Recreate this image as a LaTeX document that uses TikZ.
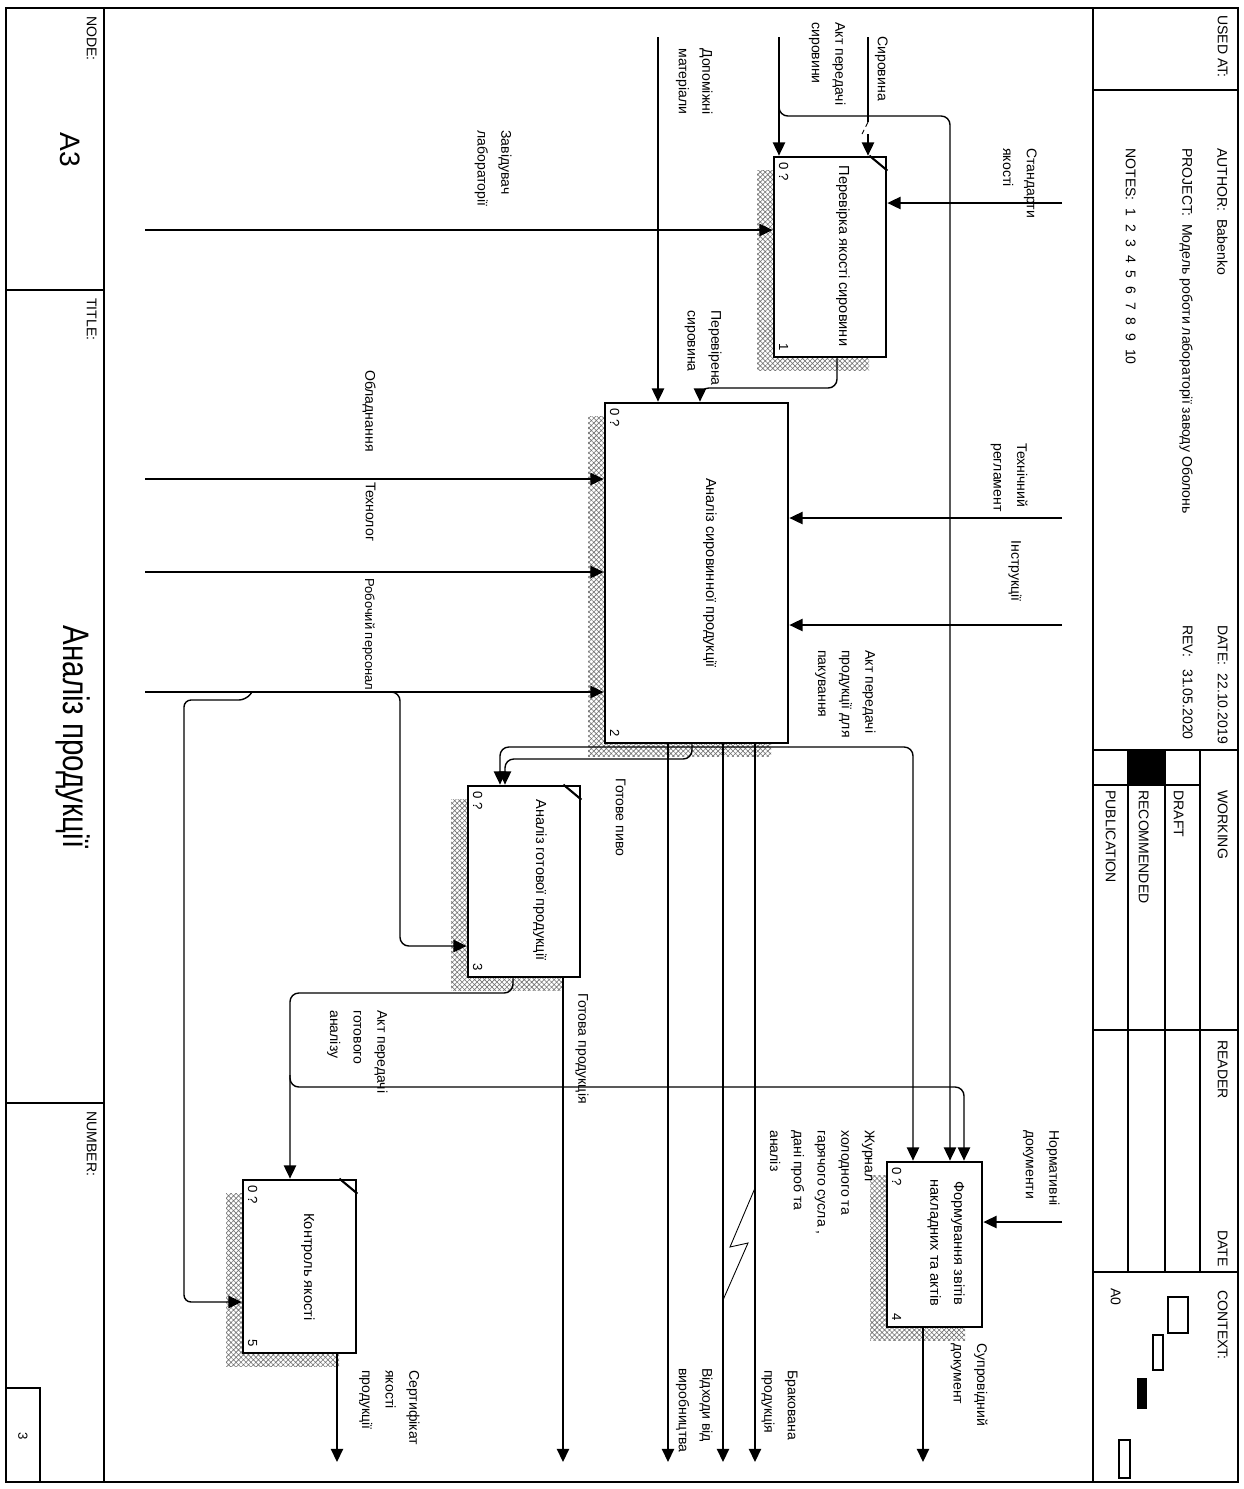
\documentclass[tikz,border=0pt]{standalone}
\usepackage{fontspec}
\setmainfont{Liberation Sans}
\usetikzlibrary{arrows.meta, patterns.meta, shadows}

\begin{document}
\begin{tikzpicture}[x=0.02cm, y=-0.02cm,
  fbox/.style={draw, line width=1.6pt, fill=white, inner sep=0pt,
               general shadow={shadow xshift=-9.6pt, shadow yshift=-7.9pt,
                 pattern={Hatch[angle=45, distance=2pt, line width=0.35pt]},
                 pattern color=black!55}},
  arr/.style={-{Triangle[length=7.5pt, width=7pt]}, line width=0.8pt},
  ln/.style={line width=0.8pt},
  lbl/.style={rotate=-90, anchor=north west, align=left, inner sep=0pt,
              font=\fontsize{8}{13.5}\selectfont},
  btxt/.style={rotate=-90, align=center, inner sep=0pt,
               font=\fontsize{8.3}{13.5}\selectfont},
  hdr/.style={rotate=-90, anchor=north west, inner sep=0pt,
              font=\fontsize{8}{10}\selectfont},
  tag/.style={rotate=-90, inner sep=0pt, font=\fontsize{7.5}{9}\selectfont}
]
\useasboundingbox (0,0) rectangle (1244,1489);

% Page frame
\draw[line width=1.2pt] (6,8) rectangle (1238,1482);
\draw[line width=1.2pt] (104,8) -- (104,1482);
\draw[line width=1.2pt] (1093,8) -- (1093,1482);

% Title block (left)
\draw[line width=0.8pt] (6,290) -- (104,290);
\draw[line width=0.8pt] (6,1103) -- (104,1103);
\draw[line width=0.8pt] (6,1388) rectangle (40,1482);
\node[hdr] (nodeL) at (97,16) {NODE:};
\node[rotate=-90, font=\fontsize{16}{18}\selectfont] (nodeV) at (70,150) {A3};
\node[hdr] (titleL) at (97,298) {TITLE:};
\node[rotate=-90] (titleV) at (73,737)
  {\scalebox{0.8}[1]{\fontsize{21}{24}\selectfont Аналіз продукції}};
\node[hdr] (numL) at (97,1111) {NUMBER:};
\node[tag] (numV) at (23,1436) {3};

% Header block (right)
\draw[line width=0.8pt] (1093,90) -- (1238,90);
\draw[line width=0.8pt] (1093,750) -- (1238,750);
\foreach \cx in {1128,1165,1200}
  \draw[line width=0.8pt] (\cx,750) -- (\cx,1272);
\draw[line width=0.8pt] (1093,785) -- (1200,785);
\fill (1128,750) rectangle (1165,785);
\draw[line width=0.8pt] (1093,1030) -- (1238,1030);
\draw[line width=0.8pt] (1093,1272) -- (1238,1272);
\node[hdr] (usedL) at (1228,15) {USED AT:};
\node[hdr] (authL) at (1228,148) {AUTHOR:\ \ Babenko};
\node[hdr] (projL) at (1193,148) {PROJECT:\ \ Модель роботи лабораторії заводу Оболонь};
\node[hdr] (notesL) at (1136,148) {NOTES:\ \ 1\ \ 2\ \ 3\ \ 4\ \ 5\ \ 6\ \ 7\ \ 8\ \ 9\ \ 10};
\node[hdr] (dateL) at (1228,625) {DATE:\ \ 22.10.2019};
\node[hdr] (revL) at (1193,625) {REV:\ \ \ 31.05.2020};
\node[hdr] (workL) at (1228,790) {WORKING};
\node[hdr] (draftL) at (1184,790) {DRAFT};
\node[hdr] (recL) at (1149,790) {RECOMMENDED};
\node[hdr] (pubL) at (1116,790) {PUBLICATION};
\node[hdr] (readL) at (1228,1040) {READER};
\node[hdr] (rdateL) at (1228,1230) {DATE};
\node[hdr] (ctxL) at (1228,1290) {CONTEXT:};
\node[hdr] (ctxA) at (1121,1288) {A0};
\draw[line width=0.8pt] (1168,1297) rectangle (1188,1333);
\draw[line width=0.8pt] (1153,1335) rectangle (1163,1370);
\fill (1137,1378) rectangle (1147,1409);
\draw[line width=0.8pt] (1119,1440) rectangle (1130,1478);

% Activity boxes
\node[fbox, minimum width=2.24cm, minimum height=4.0cm] (b1) at (830,257) {};
\node[fbox, minimum width=3.66cm, minimum height=6.8cm] (b2) at (696.5,573) {};
\node[fbox, minimum width=2.24cm, minimum height=3.82cm] (b3) at (524,881.5) {};
\node[fbox, minimum width=1.9cm, minimum height=3.3cm] (b4) at (934.5,1244.5) {};
\node[fbox, minimum width=2.26cm, minimum height=3.46cm] (b5) at (299.5,1266.5) {};

\node[btxt] (t1) at (843,256) {Перевірка якості сировини};
\node[btxt] (t2) at (710,573) {Аналіз сировинної продукції};
\node[btxt] (t3) at (540,880) {Аналіз готової продукції};
\node[btxt] (t4) at (946,1243) {Формування звітів\\накладних та актів};
\node[btxt] (t5) at (308,1267) {Контроль якості};

\foreach \b/\n in {b1/1, b2/2, b3/3, b4/4, b5/5} {
  \node[tag, anchor=north west] (c\n) at ([shift={(16,7)}]\b.north west) {0 ?};
  \node[tag, anchor=north east] (n\n) at ([shift={(16,-7)}]\b.south west) {\n};
}
\foreach \b in {b1, b3, b5}
  \draw[line width=1.2pt] ([shift={(-18,0)}]\b.north east) -- ([shift={(0,15)}]\b.north east);

% Free ends of the arrows
\coordinate (srcSyr) at (868,37);
\coordinate (srcAkt) at (779,37);
\coordinate (srcDop) at (658,37);
\coordinate (ctlStd) at (1062,203);
\coordinate (ctlReg) at (1062,518);
\coordinate (ctlIns) at (1062,625);
\coordinate (ctlNorm) at (1062,1222);
\coordinate (mZav) at (145,230);
\coordinate (mObl) at (145,479);
\coordinate (mTech) at (145,572);
\coordinate (mRob) at (145,692);
\coordinate (oSert) at (337,1462);
\coordinate (oGot) at (563,1462);
\coordinate (oVid) at (668,1462);
\coordinate (oZhur) at (723,1462);
\coordinate (oBrak) at (755,1462);
\coordinate (oSup) at (923,1462);
\coordinate (jPak) at (788,747);

% Inputs
\draw[ln] (srcSyr) -- (868,122);
\draw[line width=0.5pt, densely dashed] (868,122) -- (862,134);
\draw[arr] (868,134) -- (868,0 |- b1.north);
\draw[arr] (srcAkt) -- (srcAkt |- b1.north);
\draw[arr, rounded corners=5pt] (779,100) -- (779,116) -- (950,116) -- (950,0 |- b4.north);
\draw[arr] (srcDop) -- (srcDop |- b2.north);
\draw[arr, rounded corners=5pt] (837,0 |- b1.south) -- (837,388) -- (700,388) -- (700,0 |- b2.north);

% Controls
\draw[arr] (ctlStd) -- (ctlStd -| b1.east);
\draw[arr] (ctlReg) -- (ctlReg -| b2.east);
\draw[arr] (ctlIns) -- (ctlIns -| b2.east);
\draw[arr] (ctlNorm) -- (ctlNorm -| b4.east);

% Mechanisms
\draw[arr] (mZav) -- (mZav -| b1.west);
\draw[arr] (mObl) -- (mObl -| b2.west);
\draw[arr] (mTech) -- (mTech -| b2.west);
\draw[arr] (mRob) -- (mRob -| b2.west);
\draw[arr, rounded corners=5pt] (392,692) -- (400,692) -- (400,946) -- (b3.west |- 400,946);
\draw[arr, rounded corners=4pt] (252,692) -- (246,700) -- (184,700) -- (184,1302) -- (b5.west |- 184,1302);

% Outputs of box 2
\draw[arr] (oVid |- b2.south) -- (oVid);
\draw[arr] (oZhur |- b2.south) -- (oZhur);
\draw[arr] (oBrak |- b2.south) -- (oBrak);
\draw[arr, rounded corners=5pt] (692,0 |- b2.south) -- (692,759) -- (505,759) -- (505,0 |- b3.north);
\draw[arr, rounded corners=5pt] (jPak) -- (500,747) -- (500,0 |- b3.north);
\draw[arr, rounded corners=5pt] (jPak) -- (913,747) -- (913,0 |- b4.north);

% Outputs of box 3
\draw[arr] (oGot |- b3.south) -- (oGot);
\draw[arr, rounded corners=5pt] (513,0 |- b3.south) -- (513,993) -- (290,993) -- (290,0 |- b5.north);
\draw[arr, rounded corners=5pt] (290,1075) -- (290,1087) -- (964,1087) -- (964,0 |- b4.north);

% Outputs of boxes 4 and 5
\draw[arr] (oSup |- b4.south) -- (oSup);
\draw[arr] (oSert |- b5.south) -- (oSert);

% Arrow labels
\node[lbl] (lSyr) at (888,36) {Сировина};
\node[lbl] (lAkt) at (846,22) {Акт передачі\\сировини};
\node[lbl] (lDop) at (713,48) {Допоміжні\\матеріали};
\node[lbl] (lPer) at (722,310) {Перевірена\\сировина};
\node[lbl] (lZav) at (512,130) {Завідувач\\лабораторії};
\node[lbl] (lStd) at (1037,148) {Стандарти\\якості};
\node[lbl] (lObl) at (376,370) {Обладнання};
\node[lbl] (lTech) at (376,482) {Технолог};
\node[lbl, font=\fontsize{7.4}{13.5}\selectfont] (lRob) at (375,578) {Робочий персонал};
\node[lbl] (lReg) at (1028,443) {Технічний\\регламент};
\node[lbl] (lIns) at (1022,540) {Інструкції};
\node[lbl] (lPak) at (876,650) {Акт передачі\\продукції для\\пакування};
\node[lbl] (lPyvo) at (626,778) {Готове пиво};
\node[lbl] (lGot) at (589,993) {Готова продукція};
\node[lbl] (lAnal) at (388,1010) {Акт передачі\\готового\\аналізу};
\node[lbl] (lZhur) at (875,1130) {Журнал\\холодного та\\гарячого сусла ,\\дані проб та\\аналіз};
\node[lbl] (lNorm) at (1060,1130) {Нормативні\\документи};
\node[lbl] (lSup) at (988,1343) {Супровідний\\документ};
\node[lbl] (lBrak) at (798,1370) {Бракована\\продукція};
\node[lbl] (lVid) at (713,1368) {Відходи від\\виробництва};
\node[lbl] (lSert) at (420,1370) {Сертифікат\\якості\\продукції};

% Squiggle from the journal label to its arrow
\coordinate (sqA) at (755,1188);
\coordinate (sqB) at (723,1300);
\draw[line width=0.5pt] (sqA) -- (730,1247) -- (748,1243) -- (sqB);
\end{tikzpicture}
\end{document}
